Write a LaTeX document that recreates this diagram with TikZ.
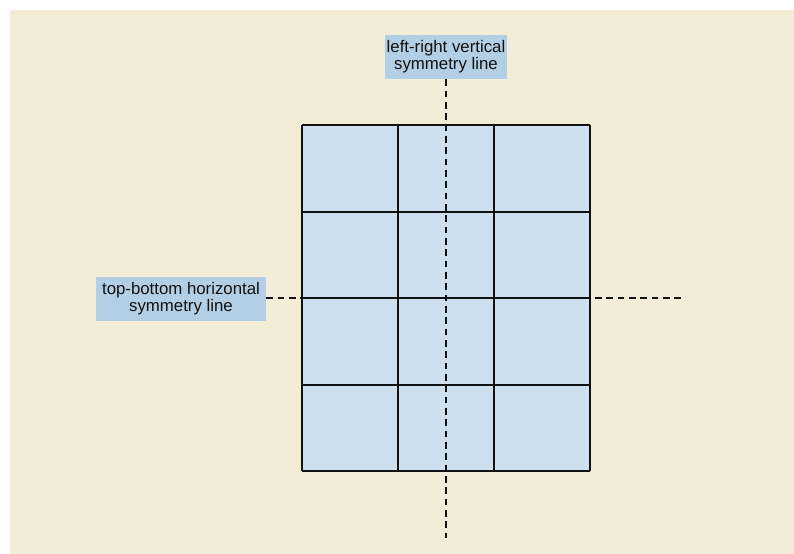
\documentclass[tikz,border=0pt]{standalone}
\usepackage{fontspec}
\setmainfont{Liberation Sans}
\usepackage{xcolor}
\definecolor{sbg}{HTML}{F3ECD6}
\definecolor{scell}{HTML}{CEDFF0}
\definecolor{slab}{HTML}{B3CFE6}
\definecolor{sink}{HTML}{111111}

\begin{document}
\begin{tikzpicture}[x=0.75pt,y=-0.75pt,
  symlabel/.style={fill=slab,text=sink,align=center,font=\fontsize{12.6}{11.5}\selectfont,
    inner sep=0pt,minimum height=33pt},
  symline/.style={sink,line width=1pt,dash pattern=on 5pt off 3.5pt}]
  \useasboundingbox (0,0) rectangle (794,554);
  \fill[sbg] (10,10) rectangle (794,554);

  % the grid of cells, 3 columns by 4 rows
  \fill[scell] (302,125) rectangle (590,471);
  \foreach \x in {302,398,494,590} {
    \draw[sink,line width=1.1pt] (\x,125) -- (\x,471);
  }
  \foreach \y in {125,212,298,385,471} {
    \draw[sink,line width=1.1pt] (302,\y) -- (590,\y);
  }

  % labels of the two symmetry lines
  \node[symlabel,minimum width=91.5pt] (vlab) at (446,57) {left-right vertical\\symmetry line};
  \node[symlabel,minimum width=127.5pt] (hlab) at (181,299) {top-bottom horizontal\\symmetry line};
  \coordinate (vend) at (446,538);
  \coordinate (hend) at (685,298);

  % the symmetry lines themselves
  \draw[symline] (vlab.south) -- (vend);
  \draw[symline] (hlab.east |- hend) -- (hend);
\end{tikzpicture}
\end{document}
